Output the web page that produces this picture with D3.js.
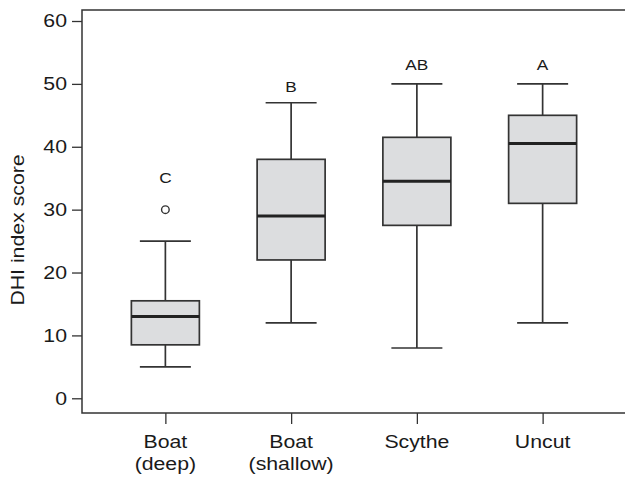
<!DOCTYPE html>
<html>
<head>
<meta charset="utf-8">
<script src="https://cdn.jsdelivr.net/npm/d3@7"></script>
<style>
  body { margin: 0; background: #fff; }
  text { font-family: "Liberation Sans", Arial, sans-serif; fill: #1a1a1a; }
</style>
</head>
<body>
<script>
// box plot of DHI scores per treatment

var categories = ["Boat\n(deep)", "Boat\n(shallow)", "Scythe", "Uncut"];
var whiskerLow = [5, 12, 8, 12];
var q1 = [8.5, 22, 27.5, 31];
var median = [13, 29, 34.5, 40.5];
var q3 = [15.5, 38, 41.5, 45];
var whiskerHigh = [25, 47, 50, 50];
var outliers = [[30], [], [], []];
var letters = ["C", "B", "AB", "A"];
var letterPos = [35, 49.5, 53, 53];
var yTicks = [0, 10, 20, 30, 40, 50, 60];

var margin = {top: 10, right: 0, bottom: 66, left: 82},
    width = 544,
    height = 403;

var stretch = "scale(1.15,1)"; // source font is a bit wider than Arial

var svg = d3.select("body").append("svg")
    .attr("width", 625)
    .attr("height", 479);

var g = svg.append("g")
    .attr("transform", "translate(" + margin.left + "," + margin.top + ")");

var x = d3.scalePoint()
    .domain(categories)
    .range([0, width])
    .padding(0.663);

var y = d3.scaleLinear()
    .domain([-2.34, 61.75])
    .range([height, 0]);

var boxW = 68, capW = 51;

var data = categories.map(function(c, i) {
  return {cat: c, lo: whiskerLow[i], q1: q1[i], med: median[i], q3: q3[i],
          hi: whiskerHigh[i], out: outliers[i], letter: letters[i], lp: letterPos[i]};
});

// frame
g.append("rect")
    .attr("x", 0).attr("y", 0)
    .attr("width", width).attr("height", height)
    .attr("fill", "none")
    .attr("stroke", "#333")
    .attr("stroke-width", 1.5);

// y axis
var yAxis = g.append("g")
    .call(d3.axisLeft(y).tickValues(yTicks).tickSize(10).tickPadding(5));
yAxis.select(".domain").remove();
yAxis.selectAll(".tick line").attr("stroke", "#333").attr("stroke-width", 1.3);
yAxis.selectAll(".tick text")
    .attr("font-size", 18.5)
    .attr("font-family", "Liberation Sans, Arial, sans-serif")
    .attr("fill", "#1a1a1a")
    .attr("transform", "translate(-15,0) " + stretch)
    .attr("x", 0);

// x axis
var xAxis = g.append("g")
    .attr("transform", "translate(0," + height + ")")
    .call(d3.axisBottom(x).tickSize(11).tickFormat(""));
xAxis.select(".domain").remove();
xAxis.selectAll(".tick line").attr("stroke", "#333").attr("stroke-width", 1.3);

var xl = g.append("g").selectAll("text")
    .data(categories)
  .enter().append("text")
    .attr("transform", function(d) { return "translate(" + x(d) + "," + (height + 35) + ") " + stretch; })
    .attr("text-anchor", "middle")
    .attr("font-size", 18.5);
xl.selectAll("tspan")
    .data(function(d) { return d.split("\n"); })
  .enter().append("tspan")
    .attr("x", 0)
    .attr("dy", function(d, i) { return i ? 22 : 0; })
    .text(function(d) { return d; });

// y label
svg.append("text")
    .attr("transform", "translate(23.5,230) rotate(-90) " + stretch)
    .attr("text-anchor", "middle")
    .attr("font-size", 18.5)
    .text("DHI index score");

// boxes
var box = g.selectAll(".box")
    .data(data)
  .enter().append("g")
    .attr("class", "box")
    .attr("transform", function(d) { return "translate(" + x(d.cat) + ",0)"; });

box.append("line")
    .attr("y1", function(d) { return y(d.lo); })
    .attr("y2", function(d) { return y(d.hi); })
    .attr("stroke", "#333").attr("stroke-width", 1.7);

box.selectAll(".cap")
    .data(function(d) { return [d.lo, d.hi]; })
  .enter().append("line")
    .attr("x1", -capW / 2).attr("x2", capW / 2)
    .attr("y1", function(v) { return y(v); })
    .attr("y2", function(v) { return y(v); })
    .attr("stroke", "#333").attr("stroke-width", 1.7);

box.append("rect")
    .attr("x", -boxW / 2)
    .attr("width", boxW)
    .attr("y", function(d) { return y(d.q3); })
    .attr("height", function(d) { return y(d.q1) - y(d.q3); })
    .attr("fill", "#dcdddf")
    .attr("stroke", "#333")
    .attr("stroke-width", 1.7);

box.append("line")
    .attr("x1", -boxW / 2).attr("x2", boxW / 2)
    .attr("y1", function(d) { return y(d.med); })
    .attr("y2", function(d) { return y(d.med); })
    .attr("stroke", "#222").attr("stroke-width", 3);

box.selectAll(".out")
    .data(function(d) { return d.out; })
  .enter().append("circle")
    .attr("cy", function(v) { return y(v); })
    .attr("r", 3.8)
    .attr("fill", "none")
    .attr("stroke", "#333")
    .attr("stroke-width", 1.4);

box.append("text")
    .attr("transform", function(d) { return "translate(0," + y(d.lp) + ") " + stretch; })
    .attr("dy", "0.35em")
    .attr("text-anchor", "middle")
    .attr("font-size", 15)
    .text(function(d) { return d.letter; });
</script>
</body>
</html>
